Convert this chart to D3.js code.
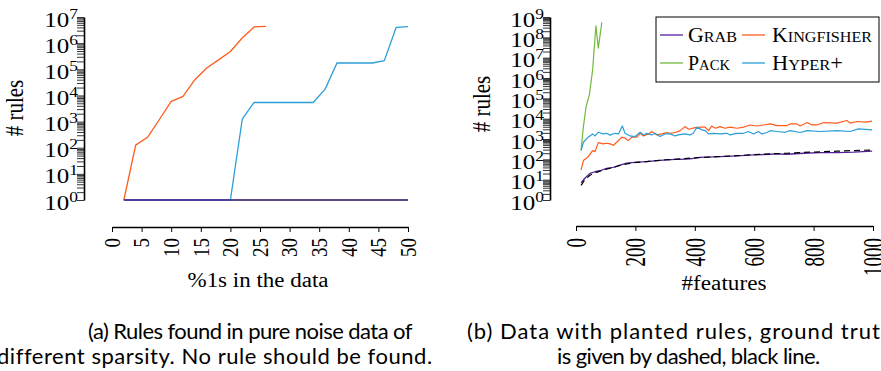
<!DOCTYPE html>
<html><head><meta charset="utf-8">
<script src="https://cdn.jsdelivr.net/npm/d3@7"></script>
<style>body{margin:0;background:#fff}svg{display:block}</style>
</head><body>
<svg id="c" width="881" height="371"></svg>
<script>
// ---------- data: (a) pure noise ----------
const sparsity = [2,4,6,8,10,12,14,16,18,20,22,24,26,28,30,32,34,36,38,40,42,44,46,48,50];
const noiseKingfisherX = [2,4,6,8,10,12,14,16,18,20,22,24,26];
const noiseKingfisher = [1,126,251,1200,5890,9120,39800,112000,229000,479000,1580000,4170000,4370000];
const noiseHyper = [1,1,1,1,1,1,1,1,1,1,1230,5370,5370,5370,5370,5370,5370,17400,174000,174000,174000,174000,214000,3980000,4270000];
const noiseGrab = [1,1,1,1,1,1,1,1,1,1,1,1,1,1,1,1,1,1,1,1,1,1,1,1,1];
const noisePack = [1,1,1,1,1,1,1,1,1,1,1,1,1,1,1,1,1,1,1,1,1,1,1,1,1];
const leftXTicks = [0,5,10,15,20,25,30,35,40,45,50];
const leftYTicks = [1,10,100,1e3,1e4,1e5,1e6,1e7];

// ---------- data: (b) planted rules ----------
const featGrabX = [17,30,47,64,81,103,126,148,171,205,238,272,306,334,351,384,418,485,542,598,654,671,710,766,822,879,935,997];
const featGrab = [7.1,11.7,20.4,24.5,27.5,36.3,40.7,52.5,64.6,72.4,77.6,87.1,93.3,100,100,104.7,125.9,134.9,147.9,166,177.8,186.2,177.8,199.5,213.8,213.8,223.9,251.2];
const featTruthX = [17,30,47,64,81,103,126,148,171,205,238,272,306,351,418,485,542,598,654,710,766,822,879,935,997];
const featTruth = [5.2,10,16.6,21.4,26.3,33.1,39.8,50.1,60.3,70.8,77.6,87.1,95.5,104.7,123,138,151.4,169.8,186.2,199.5,218.8,234.4,251.2,269.2,288.4];
const featKingX = [17,25,41,56,64,75,92,103,115,126,137,154,165,176,188,205,216,227,244,255,272,289,306,317,334,351,367,379,401,418,435,446,457,469,485,502,519,542,564,586,609,631,654,677,710,721,744,755,778,795,811,834,879,912,923,946,974,997];
const featKing = [30,87,135,269,240,661,575,617,575,490,692,1230,1096,832,1230,1230,1905,1413,1778,2344,1585,1778,2089,1905,2089,2570,4074,3020,3631,3802,3802,2570,4365,3388,4074,3388,3802,3388,3802,4898,4365,4898,5495,4571,4571,5495,5495,4365,6457,4898,4898,6457,6026,8128,6026,7244,6761,7586];
const featHyperX = [17,25,41,56,64,75,92,103,115,131,143,156,165,182,199,216,227,238,255,266,283,300,317,334,345,367,384,395,407,424,435,446,463,485,508,519,542,564,581,598,614,626,643,654,677,704,721,755,778,822,879,923,951,997];
const featHyper = [269,692,1230,1778,1413,2138,1778,1905,1549,1905,1778,4365,1905,1413,1318,2138,1585,1905,1585,1905,1318,1778,1778,1413,1585,1778,1585,1905,3802,2818,2570,1778,1905,1778,1905,1585,1905,1905,2344,1778,2344,1778,2089,2570,2344,2138,2570,2089,2570,2344,2570,2344,3162,2818];
const featPackX = [17,25,34,45,56,67,75,87];
const featPack = [288,4074,39811,147911,2500000,370000000,29500000,540000000];
const rightXTicks = [0,200,400,600,800,1000];
const rightYTicks = [1,10,100,1e3,1e4,1e5,1e6,1e7,1e8,1e9];

const colors = {grab:"#53209a", king:"#ff5c1c", pack:"#72b93e", hyper:"#2a9ed8"};
const SERIF = "'Liberation Serif','DejaVu Serif',serif";
const SANS = "Lato,'Noto Sans',sans-serif";

const svg = d3.select("#c");

function logAxis(g, y, xPos, ticksMajor) {
  const [lo, hi] = y.domain();
  const minor = y.ticks().filter(v => v >= lo && v <= hi);
  const ax = d3.axisLeft(y).tickValues(minor).tickSize(7).tickSizeOuter(0).tickFormat("");
  const a = g.append("g").attr("transform", `translate(${xPos},0)`).call(ax);
  a.select(".domain").attr("stroke", "#000").attr("stroke-width", 1.6);
  a.selectAll(".tick line").attr("stroke", "#000").attr("stroke-width", 0.8);
  ticksMajor.forEach(v => {
    const e = Math.round(Math.log10(v));
    const t = g.append("text").attr("font-family", SERIF).attr("fill", "#000")
      .attr("text-anchor", "end")
      .attr("transform", `translate(${xPos - 6},${y(v) + 9.5}) scale(1.25,1)`);
    t.append("tspan").attr("font-size", 20).text("10");
    t.append("tspan").attr("font-size", 14).attr("dy", -8).text(e);
  });
}

function bottomAxis(g, x, yPos, ticks, labelY, sx) {
  const ax = d3.axisBottom(x).tickValues(ticks).tickSize(5).tickSizeOuter(0).tickFormat("");
  const a = g.append("g").attr("transform", `translate(0,${yPos})`).call(ax);
  a.select(".domain").attr("stroke", "#000").attr("stroke-width", 1.6);
  a.selectAll(".tick line").attr("stroke", "#000").attr("stroke-width", 1);
  ticks.forEach(v => {
    g.append("text").attr("font-family", SERIF).attr("font-size", 19).attr("fill", "#000")
      .attr("text-anchor", "end").attr("dominant-baseline", "central")
      .attr("transform", `translate(${x(v)},${labelY}) scale(${sx},1) rotate(-90)`)
      .text(v);
  });
}

function line(g, x, y, xs, ys, color, w, dash) {
  const pts = xs.map((d, i) => [d, ys[i]]);
  const p = g.append("path").datum(pts)
    .attr("d", d3.line().x(d => x(d[0])).y(d => y(d[1])))
    .attr("fill", "none").attr("stroke", color).attr("stroke-width", w)
    .attr("stroke-linejoin", "round");
  if (dash) p.attr("stroke-dasharray", dash);
}

// ---------- panel (a) ----------
const gA = svg.append("g");
const xA = d3.scaleLinear().domain([0, 50]).range([112, 408]);
const yA = d3.scaleLog().domain([1, 1e7]).range([200, 17]);
logAxis(gA, yA, 84, leftYTicks);
bottomAxis(gA, xA, 227, leftXTicks, 238, 1.25);
line(gA, xA, yA, sparsity, noisePack, colors.pack, 2);
line(gA, xA, yA, sparsity, noiseHyper, colors.hyper, 1.3);
line(gA, xA, yA, noiseKingfisherX, noiseKingfisher, colors.king, 1.3);
line(gA, xA, yA, sparsity, noiseGrab, colors.grab, 1.4);
gA.append("text").attr("font-family", SERIF).attr("font-size", 21)
  .attr("text-anchor", "middle").attr("transform", "translate(23,108) scale(1.2,1) rotate(-90)").text("# rules");
gA.append("text").attr("font-family", SERIF).attr("font-size", 20)
  .attr("text-anchor", "middle").attr("x", 258).attr("y", 287).attr("textLength", 141).attr("lengthAdjust", "spacingAndGlyphs")
  .text("%1s in the data");

// ---------- panel (b) ----------
const gB = svg.append("g");
const xB = d3.scaleLinear().domain([0, 1000]).range([576, 873]);
const yB = d3.scaleLog().domain([1, 1e9]).range([200, 17]);
logAxis(gB, yB, 550, rightYTicks);
bottomAxis(gB, xB, 226, rightXTicks, 238, 1.5);
line(gB, xB, yB, featGrabX, featGrab, colors.grab, 1.3);
line(gB, xB, yB, featKingX, featKing, colors.king, 1.2);
line(gB, xB, yB, featPackX, featPack, colors.pack, 1.2);
line(gB, xB, yB, featHyperX, featHyper, colors.hyper, 1.2);
line(gB, xB, yB, featTruthX, featTruth, "#000", 1.2, "6,4");
gB.append("text").attr("font-family", SERIF).attr("font-size", 21)
  .attr("text-anchor", "middle").attr("transform", "translate(490,104) scale(1.2,1) rotate(-90)").text("# rules");
gB.append("text").attr("font-family", SERIF).attr("font-size", 20)
  .attr("text-anchor", "middle").attr("x", 724).attr("y", 290).attr("textLength", 85).attr("lengthAdjust", "spacingAndGlyphs")
  .text("#features");

// legend
const leg = gB.append("g");
leg.append("rect").attr("x", 656).attr("y", 17).attr("width", 223).attr("height", 65)
  .attr("fill", "#fff").attr("stroke", "#000").attr("stroke-width", 1);
const legendItems = [
  {big:"G", small:"RAB", tail:"", color:colors.grab, lx:660, tx:688, y:35, w:49},
  {big:"K", small:"INGFISHER", tail:"", color:colors.king, lx:742, tx:772, y:35, w:100},
  {big:"P", small:"ACK", tail:"", color:colors.pack, lx:660, tx:688, y:63, w:42},
  {big:"H", small:"YPER", tail:"+", color:colors.hyper, lx:742, tx:772, y:63, w:71}
];
legendItems.forEach(it => {
  leg.append("line").attr("x1", it.lx).attr("x2", it.lx + 23).attr("y1", it.y).attr("y2", it.y)
    .attr("stroke", it.color).attr("stroke-width", 1.3);
  const t = leg.append("text").attr("font-family", SERIF).attr("x", it.tx).attr("y", it.y + 7)
    .attr("textLength", it.w).attr("lengthAdjust", "spacingAndGlyphs");
  t.append("tspan").attr("font-size", 21).text(it.big);
  t.append("tspan").attr("font-size", 15.5).text(it.small);
  if (it.tail) t.append("tspan").attr("font-size", 21).text(it.tail);
});

// captions: fit each line to its measured extent with a light letter-spacing adjustment
const caps = [
  {t:"(a) Rules found in pure noise data of", x:88, y:339, w:324},
  {t:"different sparsity. No rule should be found.", x:-3, y:364, w:435},
  {t:"(b) Data with planted rules, ground truth", x:467, y:339, w:427},
  {t:"is given by dashed, black line.", x:557, y:364, w:218}
];
caps.forEach(c => {
  const el = svg.append("text").attr("font-family", SANS).attr("font-size", 22)
    .attr("x", c.x).attr("y", c.y).text(c.t);
  const nat = el.node().getComputedTextLength();
  const ls = Math.max(-0.6, Math.min(1.3, (c.w - nat) / c.t.length));
  el.attr("letter-spacing", ls.toFixed(2));
});
</script>
</body></html>
